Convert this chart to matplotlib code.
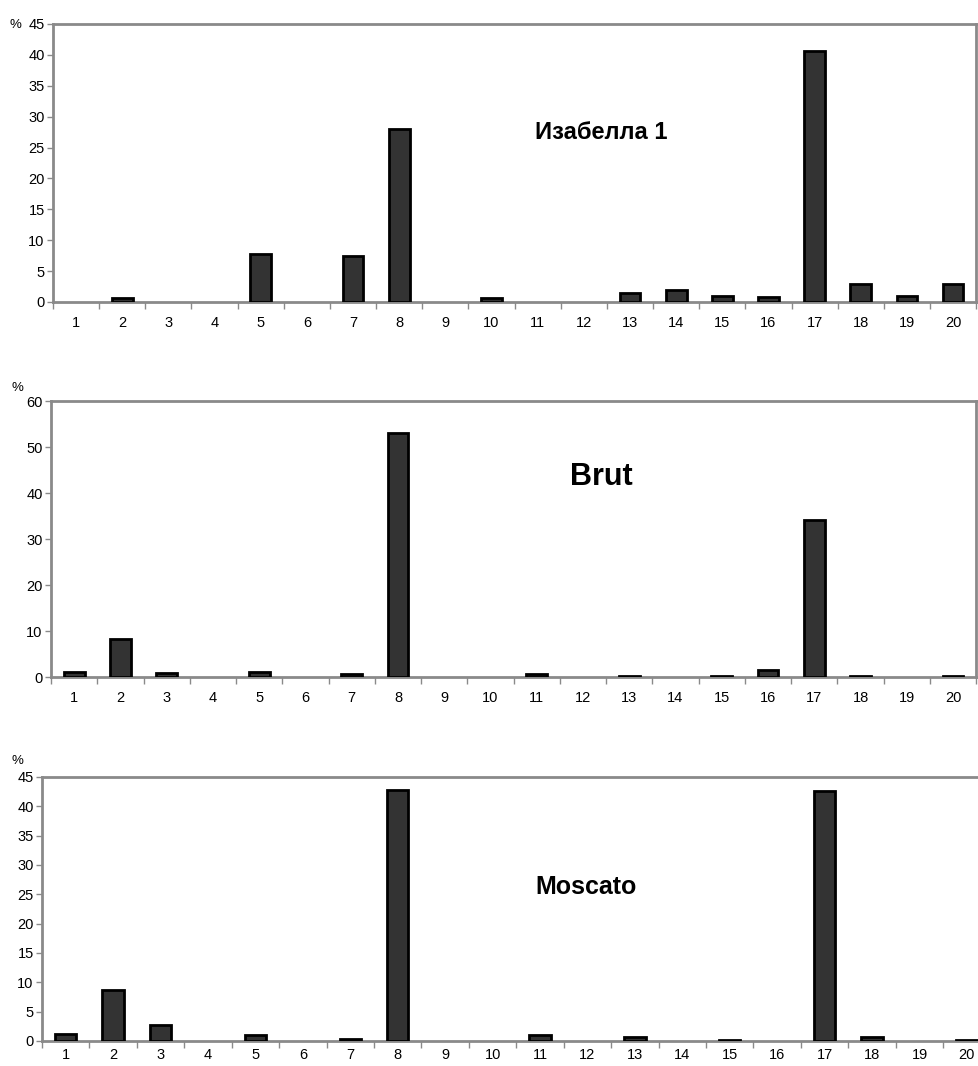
import matplotlib.pyplot as plt

plt.rcParams['font.family'] = ['Liberation Sans', 'DejaVu Sans']

# номера пиков (ось X)
categories = list(range(1, 21))

# проценты для каждого образца
isabella = [0, 0.7, 0, 0, 7.7, 0, 7.45, 28.0, 0, 0.6,
            0, 0, 1.5, 2.0, 0.9, 0.85, 40.7, 2.9, 1.0, 2.9]
brut = [1.1, 8.2, 0.9, 0, 1.0, 0, 0.7, 53.0, 0, 0,
        0.6, 0, 0.3, 0, 0.3, 1.45, 34.1, 0.3, 0, 0.3]
moscato = [1.1, 8.6, 2.8, 0, 1.0, 0, 0.3, 42.8, 0, 0,
           1.0, 0, 0.6, 0, 0.2, 0, 42.6, 0.6, 0, 0.2]

titles = ['Изабелла 1', 'Brut', 'Moscato']
ymax = [45, 60, 45]
ystep = [5, 10, 5]

fig = plt.figure(figsize=(9.79, 10.66), dpi=100)

# позиции панелей в долях фигуры
rects = [[0.0541, 0.7167, 0.943, 0.2608],
         [0.0521, 0.3649, 0.945, 0.2589],
         [0.0429, 0.0235, 0.969, 0.2477]]
title_pos = [(0.594, 0.608, 17), (0.595, 0.725, 22), (0.573, 0.583, 18)]
pct_pos = [(0.016, 0.977), (0.018, 0.636), (0.018, 0.286)]
xpad = [10, 10, 5]

series = [isabella, brut, moscato]
grey = '#8a8a8a'

for i in range(3):
    ax = fig.add_axes(rects[i])
    # нулевые значения не рисуем (иначе видна линия обводки)
    xs = [c for c, v in zip(categories, series[i]) if v > 0]
    ys = [v for v in series[i] if v > 0]
    ax.bar(xs, ys, width=0.45, color='#333333',
           edgecolor='black', linewidth=2, zorder=3)
    ax.set_xlim(0.5, 20.5)
    ax.set_ylim(0, ymax[i])
    ax.set_yticks(range(0, ymax[i] + 1, ystep[i]))
    ax.set_xticks(categories)
    ax.set_xticks([c + 0.5 for c in range(0, 21)], minor=True)
    ax.tick_params(axis='x', which='major', length=0, labelsize=10.5, pad=xpad[i])
    ax.tick_params(axis='x', which='minor', length=5, width=1, color=grey,
                   direction='out')
    ax.tick_params(axis='y', length=4, width=1, color=grey, labelsize=10.5, pad=2)
    for s in ax.spines.values():
        s.set_color(grey)
        s.set_linewidth(2)
    tx, ty, fs = title_pos[i]
    ax.text(tx, ty, titles[i], transform=ax.transAxes, ha='center',
            va='center', fontsize=fs, fontweight='bold')
    px, py = pct_pos[i]
    fig.text(px, py, '%', ha='center', va='center', fontsize=9.5)

fig.savefig('out.png', dpi=100)
